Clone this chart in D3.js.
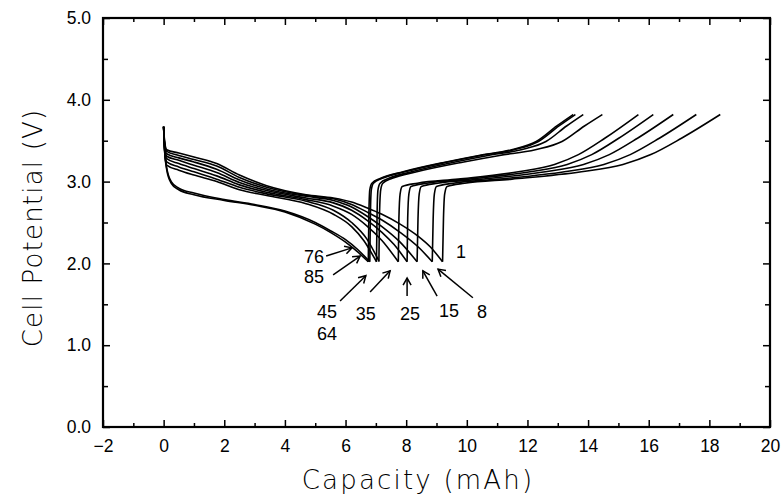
<!DOCTYPE html>
<html>
<head>
<meta charset="utf-8">
<script src="https://cdn.jsdelivr.net/npm/d3@7"></script>
<style>
  body { margin: 0; background: #fff; }
  svg { display: block; }
</style>
</head>
<body>
<script>
// Axis ticks
const xMajorTicks = [-2, 0, 2, 4, 6, 8, 10, 12, 14, 16, 18, 20]
const xMinorTicks = [-1, 1, 3, 5, 7, 9, 11, 13, 15, 17, 19]
const yMajorTicks = [0, 1, 2, 3, 4, 5]
const yMinorTicks = [0.5, 1.5, 2.5, 3.5, 4.5]

// Discharge curves [capacity mAh, potential V]
const discharge1 = [[0, 3.67], [0.03, 3.5], [0.1, 3.39], [0.5, 3.35], [1, 3.3], [1.75, 3.22], [2.5, 3.08], [3.4, 2.95], [4.7, 2.84], [5.6, 2.8], [6.2, 2.75], [6.7, 2.68], [7.2, 2.6], [7.8, 2.48], [8.4, 2.33], [8.8, 2.2], [9.2, 2.02]]
const discharge8 = [[0, 3.67], [0.03, 3.48], [0.1, 3.37], [0.5, 3.32], [1, 3.27], [1.75, 3.19], [2.5, 3.05], [3.4, 2.93], [4.7, 2.83], [5.6, 2.79], [6.2, 2.72], [6.7, 2.63], [7.2, 2.53], [7.8, 2.38], [8.4, 2.2], [8.86, 2.02]]
const discharge15 = [[0, 3.67], [0.03, 3.46], [0.1, 3.34], [0.5, 3.29], [1, 3.24], [1.75, 3.15], [2.5, 3.02], [3.4, 2.91], [4.7, 2.82], [5.6, 2.77], [6.2, 2.69], [6.7, 2.58], [7.2, 2.45], [7.8, 2.26], [8.36, 2.02]]
const discharge25 = [[0, 3.67], [0.03, 3.44], [0.1, 3.31], [0.5, 3.26], [1, 3.2], [1.75, 3.11], [2.5, 2.99], [3.4, 2.89], [4.7, 2.8], [5.6, 2.74], [6.2, 2.65], [6.7, 2.53], [7.2, 2.38], [7.6, 2.23], [8.03, 2.02]]
const discharge35 = [[0, 3.67], [0.03, 3.42], [0.1, 3.28], [0.5, 3.22], [1, 3.16], [1.75, 3.07], [2.5, 2.96], [3.4, 2.87], [4.7, 2.78], [5.6, 2.7], [6.2, 2.6], [6.7, 2.46], [7.2, 2.28], [7.74, 2.02]]
const discharge45 = [[0, 3.67], [0.03, 3.4], [0.1, 3.24], [0.5, 3.18], [1, 3.12], [1.75, 3.03], [2.5, 2.93], [3.4, 2.85], [4.7, 2.76], [5.6, 2.65], [6.2, 2.5], [6.7, 2.3], [7.1, 2.03]]
const discharge64 = [[0, 3.67], [0.03, 3.38], [0.1, 3.2], [0.5, 3.14], [1, 3.08], [1.75, 3.0], [2.5, 2.9], [3.4, 2.83], [4.7, 2.73], [5.6, 2.6], [6.2, 2.45], [6.6, 2.28], [7.02, 2.02]]
const discharge76 = [[0, 3.67], [0.03, 3.42], [0.1, 3.17], [0.25, 3.0], [0.5, 2.92], [1, 2.86], [2, 2.78], [3, 2.72], [4, 2.64], [5, 2.5], [5.5, 2.4], [6, 2.29], [6.4, 2.17], [6.8, 2.02]]
const discharge85 = [[0, 3.67], [0.03, 3.4], [0.1, 3.15], [0.25, 2.98], [0.5, 2.9], [1, 2.84], [2, 2.77], [3, 2.71], [4, 2.63], [5, 2.48], [5.5, 2.38], [6, 2.26], [6.4, 2.14], [6.75, 2.02]]

// Charge curves
const charge1 = [[9.2, 2.02], [9.23, 2.55], [9.27, 2.85], [9.35, 2.94], [9.93, 2.98], [11.49, 3.03], [13.78, 3.12], [15.15, 3.21], [16.07, 3.33], [17.08, 3.53], [18.36, 3.82]]
const charge8 = [[8.86, 2.02], [8.89, 2.55], [8.93, 2.85], [9.0, 2.94], [9.56, 2.98], [11.04, 3.03], [13.22, 3.12], [14.52, 3.21], [15.39, 3.33], [16.35, 3.53], [17.57, 3.82]]
const charge15 = [[8.36, 2.02], [8.39, 2.55], [8.43, 2.85], [8.5, 2.94], [9.04, 2.98], [10.47, 3.03], [12.59, 3.12], [13.85, 3.21], [14.7, 3.33], [15.63, 3.53], [16.81, 3.82]]
const charge25 = [[8.03, 2.02], [8.05, 2.55], [8.09, 2.85], [8.16, 2.94], [8.68, 2.98], [10.06, 3.03], [12.09, 3.12], [13.31, 3.21], [14.12, 3.33], [15.01, 3.53], [16.15, 3.82]]
const charge35 = [[7.74, 2.02], [7.76, 2.55], [7.8, 2.85], [7.87, 2.94], [8.37, 2.98], [9.72, 3.03], [11.7, 3.12], [12.89, 3.21], [13.68, 3.33], [14.55, 3.53], [15.66, 3.82]]
const charge45 = [[7.1, 2.02], [7.12, 2.6], [7.16, 2.9], [7.23, 2.98], [7.54, 3.04], [8.35, 3.12], [9.9, 3.24], [11.08, 3.32], [12.26, 3.39], [13.14, 3.49], [13.88, 3.68], [14.47, 3.82]]
const charge64 = [[7.02, 2.02], [7.04, 2.6], [7.07, 2.9], [7.14, 2.98], [7.43, 3.04], [8.18, 3.12], [9.61, 3.24], [10.7, 3.32], [11.79, 3.39], [12.61, 3.49], [13.29, 3.68], [13.84, 3.82]]
const charge76 = [[6.8, 2.02], [6.82, 2.6], [6.85, 2.9], [6.92, 2.98], [7.21, 3.04], [7.95, 3.12], [9.38, 3.24], [10.46, 3.32], [11.55, 3.39], [12.36, 3.49], [13.04, 3.68], [13.58, 3.82]]
const charge85 = [[6.75, 2.02], [6.77, 2.6], [6.8, 2.9], [6.87, 2.98], [7.16, 3.04], [7.9, 3.12], [9.32, 3.24], [10.4, 3.32], [11.48, 3.39], [12.29, 3.49], [12.97, 3.68], [13.51, 3.82]]

const curves = [
  discharge1, discharge8, discharge15, discharge25, discharge35,
  discharge45, discharge64, discharge76, discharge85,
  charge1, charge8, charge15, charge25, charge35,
  charge45, charge64, charge76, charge85,
]

// Cycle number labels: [text, x, y] and arrows [x1, y1, x2, y2] in data units
const cycleLabels = [
  ['76', 4.96, 2.0], ['85', 4.96, 1.76], ['45', 5.39, 1.33], ['64', 5.39, 1.06],
  ['35', 6.67, 1.31], ['25', 8.13, 1.31], ['15', 9.41, 1.34], ['8', 10.5, 1.33],
  ['1', 9.81, 2.07],
]
const cycleArrows = [
  [5.36, 2.09, 6.21, 2.19], [5.59, 1.86, 6.48, 2.09], [5.82, 1.54, 6.67, 1.85],
  [6.81, 1.65, 7.47, 1.91], [8.03, 1.6, 8.03, 1.82], [9.02, 1.6, 8.55, 1.91],
  [10.2, 1.58, 9.05, 1.93],
]

const width = 783
const height = 499
const margin = { top: 18, right: 13, bottom: 72, left: 103 }

const svg = d3
  .select(document.body)
  .append('svg')
  .attr('width', width)
  .attr('height', height)

const x = d3.scaleLinear().domain([-2, 20]).range([margin.left, width - margin.right])
const y = d3.scaleLinear().domain([0, 5]).range([height - margin.bottom, margin.top])

const tickFont = '"Liberation Sans", Arial, sans-serif'
const titleFont = '"DejaVu Sans", sans-serif'

// Inward ticks on all four sides
function addAxis(axis, transform, showLabels) {
  const g = svg.append('g').attr('transform', transform).call(axis)
  g.select('.domain').remove()
  g.selectAll('.tick line').attr('stroke', '#000').attr('stroke-width', 1.5)
  if (!showLabels) g.selectAll('.tick text').remove()
  return g
}

const xBottom = addAxis(
  d3.axisBottom(x).tickValues(xMajorTicks).tickSize(-7).tickPadding(13)
    .tickFormat((d) => (d < 0 ? '\u2212' + Math.abs(d) : d)),
  `translate(0,${y(0)})`, true)
addAxis(d3.axisBottom(x).tickValues(xMinorTicks).tickSize(-4).tickFormat(''), `translate(0,${y(0)})`, false)
addAxis(d3.axisTop(x).tickValues(xMajorTicks).tickSize(-7), `translate(0,${y(5)})`, false)
addAxis(d3.axisTop(x).tickValues(xMinorTicks).tickSize(-4), `translate(0,${y(5)})`, false)

const yLeft = addAxis(
  d3.axisLeft(y).tickValues(yMajorTicks).tickSize(-7).tickPadding(12).tickFormat(d3.format('.1f')),
  `translate(${x(-2)},0)`, true)
addAxis(d3.axisLeft(y).tickValues(yMinorTicks).tickSize(-5), `translate(${x(-2)},0)`, false)
addAxis(d3.axisRight(y).tickValues(yMajorTicks).tickSize(-7), `translate(${x(20)},0)`, false)
addAxis(d3.axisRight(y).tickValues(yMinorTicks).tickSize(-5), `translate(${x(20)},0)`, false)

xBottom.selectAll('.tick text').attr('font-family', tickFont).attr('font-size', 17.5).attr('fill', '#000')
yLeft.selectAll('.tick text').attr('font-family', tickFont).attr('font-size', 17.5).attr('fill', '#000')

// Frame
svg
  .append('rect')
  .attr('x', x(-2))
  .attr('y', y(5))
  .attr('width', x(20) - x(-2))
  .attr('height', y(0) - y(5))
  .attr('fill', 'none')
  .attr('stroke', '#000')
  .attr('stroke-width', 2.2)

// Curves
const line = d3
  .line()
  .x((d) => x(d[0]))
  .y((d) => y(d[1]))
  .curve(d3.curveMonotoneX)

svg
  .append('g')
  .selectAll('path')
  .data(curves)
  .enter()
  .append('path')
  .attr('d', line)
  .attr('fill', 'none')
  .attr('stroke', '#000')
  .attr('stroke-width', 1.6)

// Open arrowhead
svg
  .append('defs')
  .append('marker')
  .attr('id', 'arrowhead')
  .attr('markerWidth', 10)
  .attr('markerHeight', 10)
  .attr('refX', 8)
  .attr('refY', 5)
  .attr('orient', 'auto')
  .attr('markerUnits', 'userSpaceOnUse')
  .append('polyline')
  .attr('points', '1 1, 8 5, 1 9')
  .attr('fill', 'none')
  .attr('stroke', '#000')
  .attr('stroke-width', 1.5)

svg
  .append('g')
  .selectAll('line')
  .data(cycleArrows)
  .enter()
  .append('line')
  .attr('x1', (d) => x(d[0]))
  .attr('y1', (d) => y(d[1]))
  .attr('x2', (d) => x(d[2]))
  .attr('y2', (d) => y(d[3]))
  .attr('stroke', '#000')
  .attr('stroke-width', 1.5)
  .attr('marker-end', 'url(#arrowhead)')

svg
  .append('g')
  .selectAll('text')
  .data(cycleLabels)
  .enter()
  .append('text')
  .attr('x', (d) => x(d[1]))
  .attr('y', (d) => y(d[2]))
  .attr('text-anchor', 'middle')
  .attr('font-family', tickFont)
  .attr('font-size', 18)
  .text((d) => d[0])

// Axis titles
svg
  .append('text')
  .attr('x', 418)
  .attr('y', 489)
  .attr('text-anchor', 'middle')
  .attr('font-family', titleFont)
  .attr('font-weight', 200)
  .attr('font-size', 26)
  .attr('letter-spacing', 2.2)
  .text('Capacity (mAh)')

svg
  .append('text')
  .attr('transform', `translate(42,228) rotate(-90)`)
  .attr('text-anchor', 'middle')
  .attr('font-family', titleFont)
  .attr('font-weight', 200)
  .attr('font-size', 26)
  .attr('letter-spacing', 1.2)
  .text('Cell Potential (V)')
</script>
</body>
</html>
